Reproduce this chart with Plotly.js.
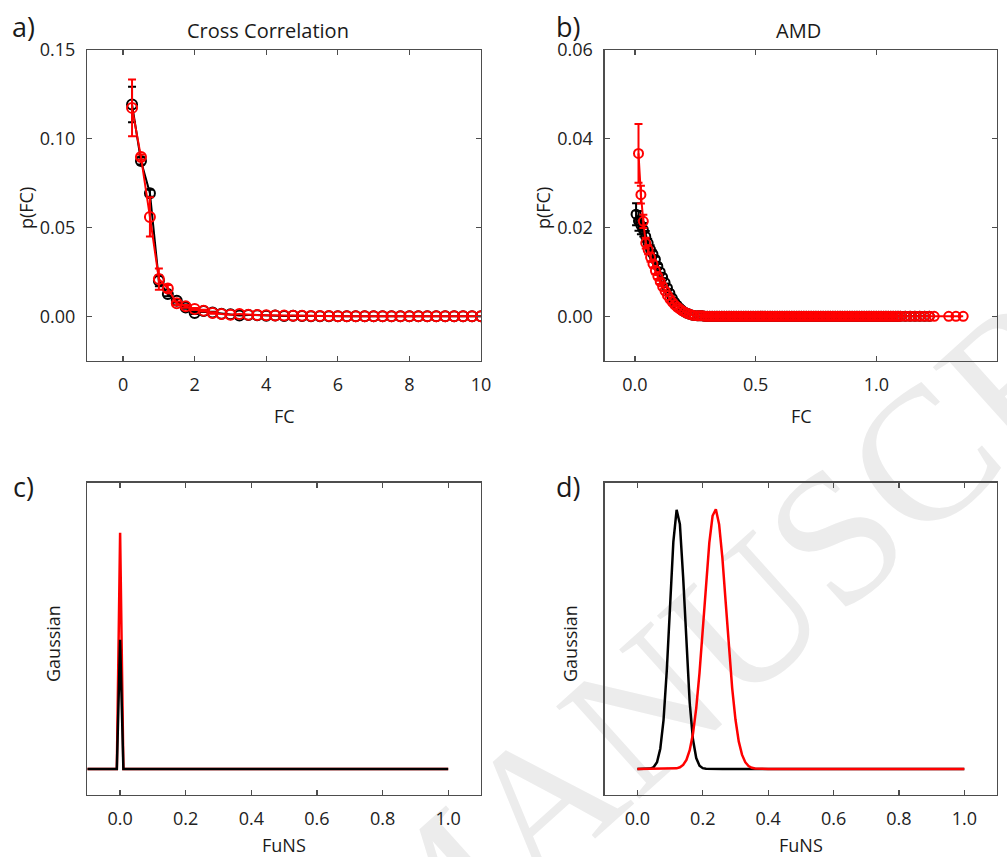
<!DOCTYPE html>
<html>
<head>
<meta charset="utf-8">
<script src="https://cdn.plot.ly/plotly-3.0.1.min.js"></script>
<style>
  html, body { margin: 0; padding: 0; background: #ffffff; overflow: hidden; }
  #wrap { position: relative; width: 1007px; height: 857px; }
  #wm { position: absolute; left: 820px; top: 550px; transform: translate(-50%, -50%) rotate(-42deg);
        font-family: 'Liberation Serif', 'DejaVu Serif', serif; font-size: 190px; color: #ececec;
        white-space: nowrap; line-height: 1; z-index: 0; }
  #chart { position: absolute; left: 0; top: 0; width: 1007px; height: 857px; z-index: 1; }
</style>
</head>
<body>
<div id="wrap">
  <div id="wm">MANUSCRIPT</div>
  <div id="chart"></div>
</div>
<script>
// ---------- Panel a: Cross Correlation ----------
const aX = [0.25,0.5,0.75,1.0,1.25,1.5,1.75,2.0,2.25,2.5,
            2.75,3.0,3.25,3.5,3.75,4.0,4.25,4.5,4.75,5.0,
            5.25,5.5,5.75,6.0,6.25,6.5,6.75,7.0,7.25,7.5,
            7.75,8.0,8.25,8.5,8.75,9.0,9.25,9.5,9.75,10.0];
const aBlackY = [0.1193,0.0875,0.0693,0.0200,0.0125,0.0088,0.0050,0.0019,0.0030,0.0022,
                 0.0015,0.0012,0.0004,0.0008,0.0006,0.0003,0.0004,0.0002,0.0003,0.0002,
                 0.0001,0.0001,0.0001,0.0001,0.0001,0.0001,0,0,0,0,
                 0,0,0,0,0,0,0,0,0,0];
const aRedY = [0.1174,0.0897,0.0560,0.0210,0.0157,0.0073,0.0056,0.0041,0.0032,0.0019,
               0.0013,0.0009,0.0013,0.0009,0.0007,0.0006,0.0005,0.0004,0.0003,0.0003,
               0.0002,0.0002,0.0002,0.0001,0.0001,0.0001,0.0001,0.0001,0.0001,0.0001,
               0,0,0,0,0,0,0,0,0,0];
const aBlackErr = [0.010,0.002,0.002,0.003,0.0012,0.001,0.0008,0.0006,0.0005,0.0004];
const aRedErr = [0.016,0.0015,0.011,0.006,0.002,0.001,0.0008,0.0006,0.0005,0.0004];

// ---------- Panel b: AMD ----------
const bBlackHeadX = [0.005,0.015,0.025,0.035,0.045,0.055,0.065,0.075,0.085,0.095,
                     0.105,0.115,0.125,0.135,0.145,0.155,0.165,0.175,0.185,0.195,
                     0.205,0.215,0.225,0.235,0.245];
const bBlackHeadY = [0.0230,0.0215,0.0205,0.0195,0.0180,0.0165,0.0150,0.0140,0.0128,0.0113,
                     0.0100,0.0088,0.0076,0.0064,0.0052,0.0041,0.0032,0.0025,0.0019,0.0014,
                     0.0010,0.0007,0.0005,0.0003,0.0002];
const bRedHeadX = [0.015,0.025,0.035,0.045,0.055,0.065,0.075,0.085,0.095,
                   0.105,0.115,0.125,0.135,0.145,0.155,0.165,0.175,0.185,0.195,
                   0.205,0.215,0.225,0.235,0.245];
const bRedHeadY = [0.0367,0.0274,0.0214,0.0165,0.0150,0.0133,0.0118,0.0103,0.0090,
                   0.0078,0.0067,0.0057,0.0047,0.0039,0.0032,0.0026,0.0021,0.0017,0.0013,
                   0.0010,0.0007,0.0005,0.0003,0.0002];
const bTailX = [0.26,0.27,0.28,0.29,0.30,0.31,0.32,0.33,0.34,0.35,
                0.36,0.37,0.38,0.39,0.40,0.41,0.42,0.43,0.44,0.45,
                0.46,0.47,0.48,0.49,0.50,0.51,0.52,0.53,0.54,0.55,
                0.56,0.57,0.58,0.59,0.60,0.61,0.62,0.63,0.64,0.65,
                0.66,0.67,0.68,0.69,0.70,0.71,0.72,0.73,0.74,0.75,
                0.76,0.77,0.78,0.79,0.80,0.81,0.82,0.83,0.84,0.85,
                0.86,0.87,0.88,0.89,0.90,0.91,0.92,0.93,0.94,0.95,
                0.96,0.97,0.98,0.99,1.00,1.01,1.02,1.03,1.04,1.05,
                1.06,1.07,1.08,1.09,1.10,1.12,1.14,1.16,1.18,1.20,
                1.22];
const bTailY = [0.0001,0.0001,0.0001,0,0,0,0,0,0,0,
                0,0,0,0,0,0,0,0,0,0,
                0,0,0,0,0,0,0,0,0,0,
                0,0,0,0,0,0,0,0,0,0,
                0,0,0,0,0,0,0,0,0,0,
                0,0,0,0,0,0,0,0,0,0,
                0,0,0,0,0,0,0,0,0,0,
                0,0,0,0,0,0,0,0,0,0,
                0,0,0,0,0,0,0,0,0,0,
                0];
const bRedEndX = [1.24,1.30,1.33,1.36];
const bRedEndY = [0,0,0,0];
const bBlackErr = [0.0025,0.0022,0.0020,0.0015,0.0012,0.0010,0.0010,0.0008,0.0006,0.0005];
const bRedErr = [0.0066,0.0020,0.0015,0.0012,0.0010,0.0010,0.0008,0.0008,0.0006,0.0005];

// ---------- Panel c: Gaussian (Cross Correlation) ----------
const cX = [-0.1,-0.01,0.0,0.01,1.0];
const cBlack = [0,0,0.496,0,0];
const cRed = [0,0,0.908,0,0];

// ---------- Panel d: Gaussian (AMD) ----------
const dX = [0.00,0.01,0.02,0.03,0.04,0.05,0.06,0.07,0.08,0.09,
            0.10,0.11,0.12,0.13,0.14,0.15,0.16,0.17,0.18,0.19,
            0.20,0.21,0.22,0.23,0.24,0.25,0.26,0.27,0.28,0.29,
            0.30,0.31,0.32,0.33,0.34,0.35,0.36,0.37,0.38,0.39,
            0.40,1.00];
const dBlack = [0,0,0.0001,0.0003,0.0017,0.0075,0.026,0.078,0.188,0.380,
                0.633,0.873,0.996,0.941,0.736,0.477,0.255,0.113,0.042,0.0125,
                0.0032,0.0007,0.0001,0,0,0,0,0,0,0,
                0,0,0,0,0,0,0,0,0,0,
                0,0];
const dRed = [0,0,0,0,0,0,0,0,0,0.0001,
              0.0003,0.0008,0.0024,0.0064,0.0157,0.035,0.072,0.135,0.234,0.369,
              0.535,0.713,0.869,0.973,0.998,0.940,0.811,0.642,0.467,0.310,
              0.190,0.106,0.055,0.026,0.011,0.0044,0.0016,0.0005,0.0001,0,
              0,0];

const FONT = 'Open Sans';
const RED = '#ff0000', BLK = '#000000';

function markerTrace(x, y, err, color, xa, ya, msize) {
  return {
    x: x, y: y, xaxis: xa, yaxis: ya, type: 'scatter', mode: 'lines+markers',
    line: {color: color, width: 2},
    marker: {symbol: 'circle-open', size: msize, color: color, line: {width: 2, color: color}},
    error_y: {type: 'data', array: err, visible: true, color: color, thickness: 2, width: 4},
    showlegend: false, hoverinfo: 'skip'
  };
}
function lineTrace(x, y, color, xa, ya) {
  return {x: x, y: y, xaxis: xa, yaxis: ya, type: 'scatter', mode: 'lines',
          line: {color: color, width: 2.5}, showlegend: false, hoverinfo: 'skip'};
}

const traces = [
  markerTrace(aX, aBlackY, aBlackErr, BLK, 'x', 'y', 10),
  markerTrace(aX, aRedY, aRedErr, RED, 'x', 'y', 10),
  markerTrace(bBlackHeadX.concat(bTailX), bBlackHeadY.concat(bTailY), bBlackErr, BLK, 'x2', 'y2', 9),
  markerTrace(bRedHeadX.concat(bTailX, bRedEndX), bRedHeadY.concat(bTailY, bRedEndY), bRedErr, RED, 'x2', 'y2', 9),
  lineTrace(cX, cRed, RED, 'x3', 'y3'),
  lineTrace(cX, cBlack, BLK, 'x3', 'y3'),
  lineTrace(dX, dBlack, BLK, 'x4', 'y4'),
  lineTrace(dX, dRed, RED, 'x4', 'y4')
];

const W = 1007, H = 857;
function px(v) { return v / W; }
function py(v) { return 1 - v / H; }

function axis(extra) {
  return Object.assign({
    showline: true, linecolor: '#4d4d4d', linewidth: 1.3, mirror: 'ticks',
    ticks: 'inside', ticklen: 5, tickwidth: 1.3, tickcolor: '#4d4d4d',
    showgrid: false, zeroline: false, fixedrange: true,
    tickfont: {family: FONT, size: 18, color: '#222222'}, ticklabelstandoff: 7
  }, extra);
}

const topDom = [py(360.7), py(50)];
const botDom = [py(795), py(482.7)];
const leftDom = [px(87.3), px(481)];
const rightDom = [px(604.7), px(997)];

const ann = [];
function label(text, x, y, size, angle) {
  ann.push({text: text, xref: 'paper', yref: 'paper', x: px(x), y: py(y),
            xanchor: 'center', yanchor: 'middle', showarrow: false, textangle: angle || 0,
            font: {family: FONT, size: size, color: '#1a1a1a'}});
}
label('a)', 23, 26, 27); label('b)', 568, 26, 27);
label('c)', 23, 487, 27); label('d)', 568, 487, 27);
label('Cross Correlation', 268, 31, 20); label('AMD', 798, 31, 20);
label('FC', 284, 416, 18); label('FC', 801, 416, 18);
label('p(FC)', 26, 208, 18, -90); label('p(FC)', 543, 208, 18, -90);
label('Gaussian', 53, 644, 18, -90); label('Gaussian', 570, 644, 18, -90);
label('FuNS', 284, 845, 18); label('FuNS', 801, 845, 18);

const layout = {
  width: W, height: H, margin: {l: 0, r: 0, t: 0, b: 0},
  paper_bgcolor: 'rgba(0,0,0,0)', plot_bgcolor: 'rgba(0,0,0,0)',
  font: {family: FONT},
  xaxis: axis({domain: leftDom, anchor: 'y', range: [-1, 10], tickvals: [0,2,4,6,8,10]}),
  yaxis: axis({domain: topDom, anchor: 'x', range: [-0.025, 0.15], tickvals: [0,0.05,0.10,0.15], tickformat: '.2f'}),
  xaxis2: axis({domain: rightDom, anchor: 'y2', range: [-0.125, 1.5], tickvals: [0,0.5,1.0,1.5], tickformat: '.1f'}),
  yaxis2: axis({domain: topDom, anchor: 'x2', range: [-0.01, 0.06], tickvals: [0,0.02,0.04,0.06], tickformat: '.2f'}),
  xaxis3: axis({domain: leftDom, anchor: 'y3', range: [-0.1, 1.1], tickvals: [0,0.2,0.4,0.6,0.8,1.0], tickformat: '.1f'}),
  yaxis3: axis({domain: botDom, anchor: 'x3', range: [-0.1, 1.1], ticks: '', mirror: true, showticklabels: false}),
  xaxis4: axis({domain: rightDom, anchor: 'y4', range: [-0.1, 1.1], tickvals: [0,0.2,0.4,0.6,0.8,1.0], tickformat: '.1f'}),
  yaxis4: axis({domain: botDom, anchor: 'x4', range: [-0.1, 1.1], ticks: '', mirror: true, showticklabels: false}),
  annotations: ann
};

Plotly.newPlot('chart', traces, layout, {staticPlot: true, displayModeBar: false});
</script>
</body>
</html>
